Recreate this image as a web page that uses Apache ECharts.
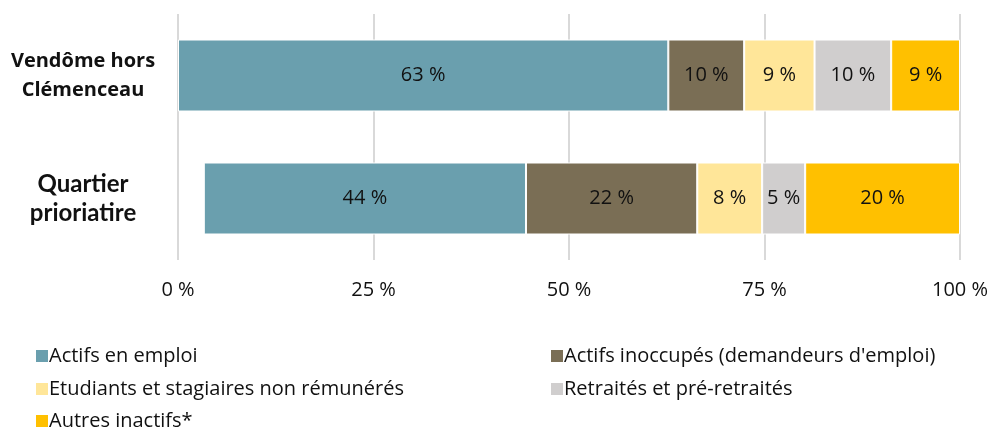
<!DOCTYPE html>
<html>
<head>
<meta charset="utf-8">
<script src="https://cdn.jsdelivr.net/npm/echarts@6/dist/echarts.min.js"></script>
<style>
  html, body { margin: 0; padding: 0; background: #fff; }
  #chart { width: 992px; height: 430px; }
</style>
</head>
<body>
<div id="chart"></div>
<script>
// categories, top to bottom
const categories = ['Vendôme hors\nClémenceau', 'Quartier\nprioriatire']
// segment widths (% of axis)
const offset = [0, 3.3]
const actifsEmploi = [62.7, 41.2]
const actifsInoccupes = [9.7, 21.9]
const etudiants = [9.0, 8.3]
const retraites = [9.8, 5.5]
const autresInactifs = [8.8, 19.8]
// printed labels
const labelsEmploi = [63, 44]
const labelsInoccupes = [10, 22]
const labelsEtudiants = [9, 8]
const labelsRetraites = [10, 5]
const labelsAutres = [9, 20]
const xTicks = [0, 25, 50, 75, 100]

const seriesNames = [
  'Actifs en emploi',
  'Actifs inoccupés (demandeurs d\'emploi)',
  'Etudiants et stagiaires non rémunérés',
  'Retraités et pré-retraités',
  'Autres inactifs*'
]
const colors = ['#6A9FAE', '#7A6E55', '#FFE699', '#D0CECE', '#FFC000']
const values = [actifsEmploi, actifsInoccupes, etudiants, retraites, autresInactifs]
const labels = [labelsEmploi, labelsInoccupes, labelsEtudiants, labelsRetraites, labelsAutres]

const chart = echarts.init(document.getElementById('chart'))

const series = [{
  name: 'offset',
  type: 'bar',
  stack: 'total',
  data: offset,
  itemStyle: { color: 'transparent' },
  barWidth: 72,
  silent: true
}]
seriesNames.forEach((name, i) => {
  series.push({
    name: name,
    type: 'bar',
    stack: 'total',
    barWidth: 72,
    data: values[i],
    itemStyle: { color: colors[i], borderColor: '#fff', borderWidth: 1 },
    label: {
      show: true,
      position: 'inside',
      color: '#111',
      fontFamily: 'Open Sans',
      fontSize: 20,
      formatter: p => labels[i][p.dataIndex] + ' %'
    }
  })
})

// legend positions: two columns
const legendPos = [[29, 341], [544, 341], [29, 374], [544, 374], [29, 406]]
const legends = seriesNames.map((name, i) => ({
  data: [name],
  left: legendPos[i][0],
  top: legendPos[i][1],
  icon: 'rect',
  itemWidth: 14,
  itemHeight: 14,
  itemGap: 4,
  selectedMode: false,
  textStyle: { fontFamily: 'Open Sans', fontSize: 20, lineHeight: 20, color: '#111', padding: [0, 0, 0, -5] }
}))

chart.setOption({
  animation: false,
  grid: { left: 178, right: 32, top: 14, height: 246 },
  legend: legends,
  xAxis: {
    type: 'value',
    min: 0,
    max: 100,
    interval: 25,
    axisLine: { show: false },
    axisTick: { show: false },
    splitLine: { lineStyle: { color: '#d9d9d9', width: 2 } },
    axisLabel: {
      margin: 20,
      fontFamily: 'Open Sans',
      fontSize: 20,
      color: '#111',
      formatter: v => xTicks.indexOf(v) >= 0 ? v + ' %' : ''
    }
  },
  yAxis: {
    type: 'category',
    inverse: true,
    data: categories,
    axisLine: { show: false },
    axisTick: { show: false },
    axisLabel: {
      margin: 95,
      align: 'center',
      formatter: (v, i) => i === 0
        ? v.split('\n').map(s => '{a|' + s + '}').join('\n')
        : v.split('\n').map(s => '{b|' + s + '}').join('\n'),
      rich: {
        a: { fontFamily: 'Open Sans', fontWeight: 'bold', fontSize: 20, lineHeight: 29, color: '#111' },
        b: { fontFamily: 'Lato', fontWeight: 'bold', fontSize: 24, lineHeight: 29, color: '#111' }
      }
    }
  },
  series: series
})
</script>
</body>
</html>
